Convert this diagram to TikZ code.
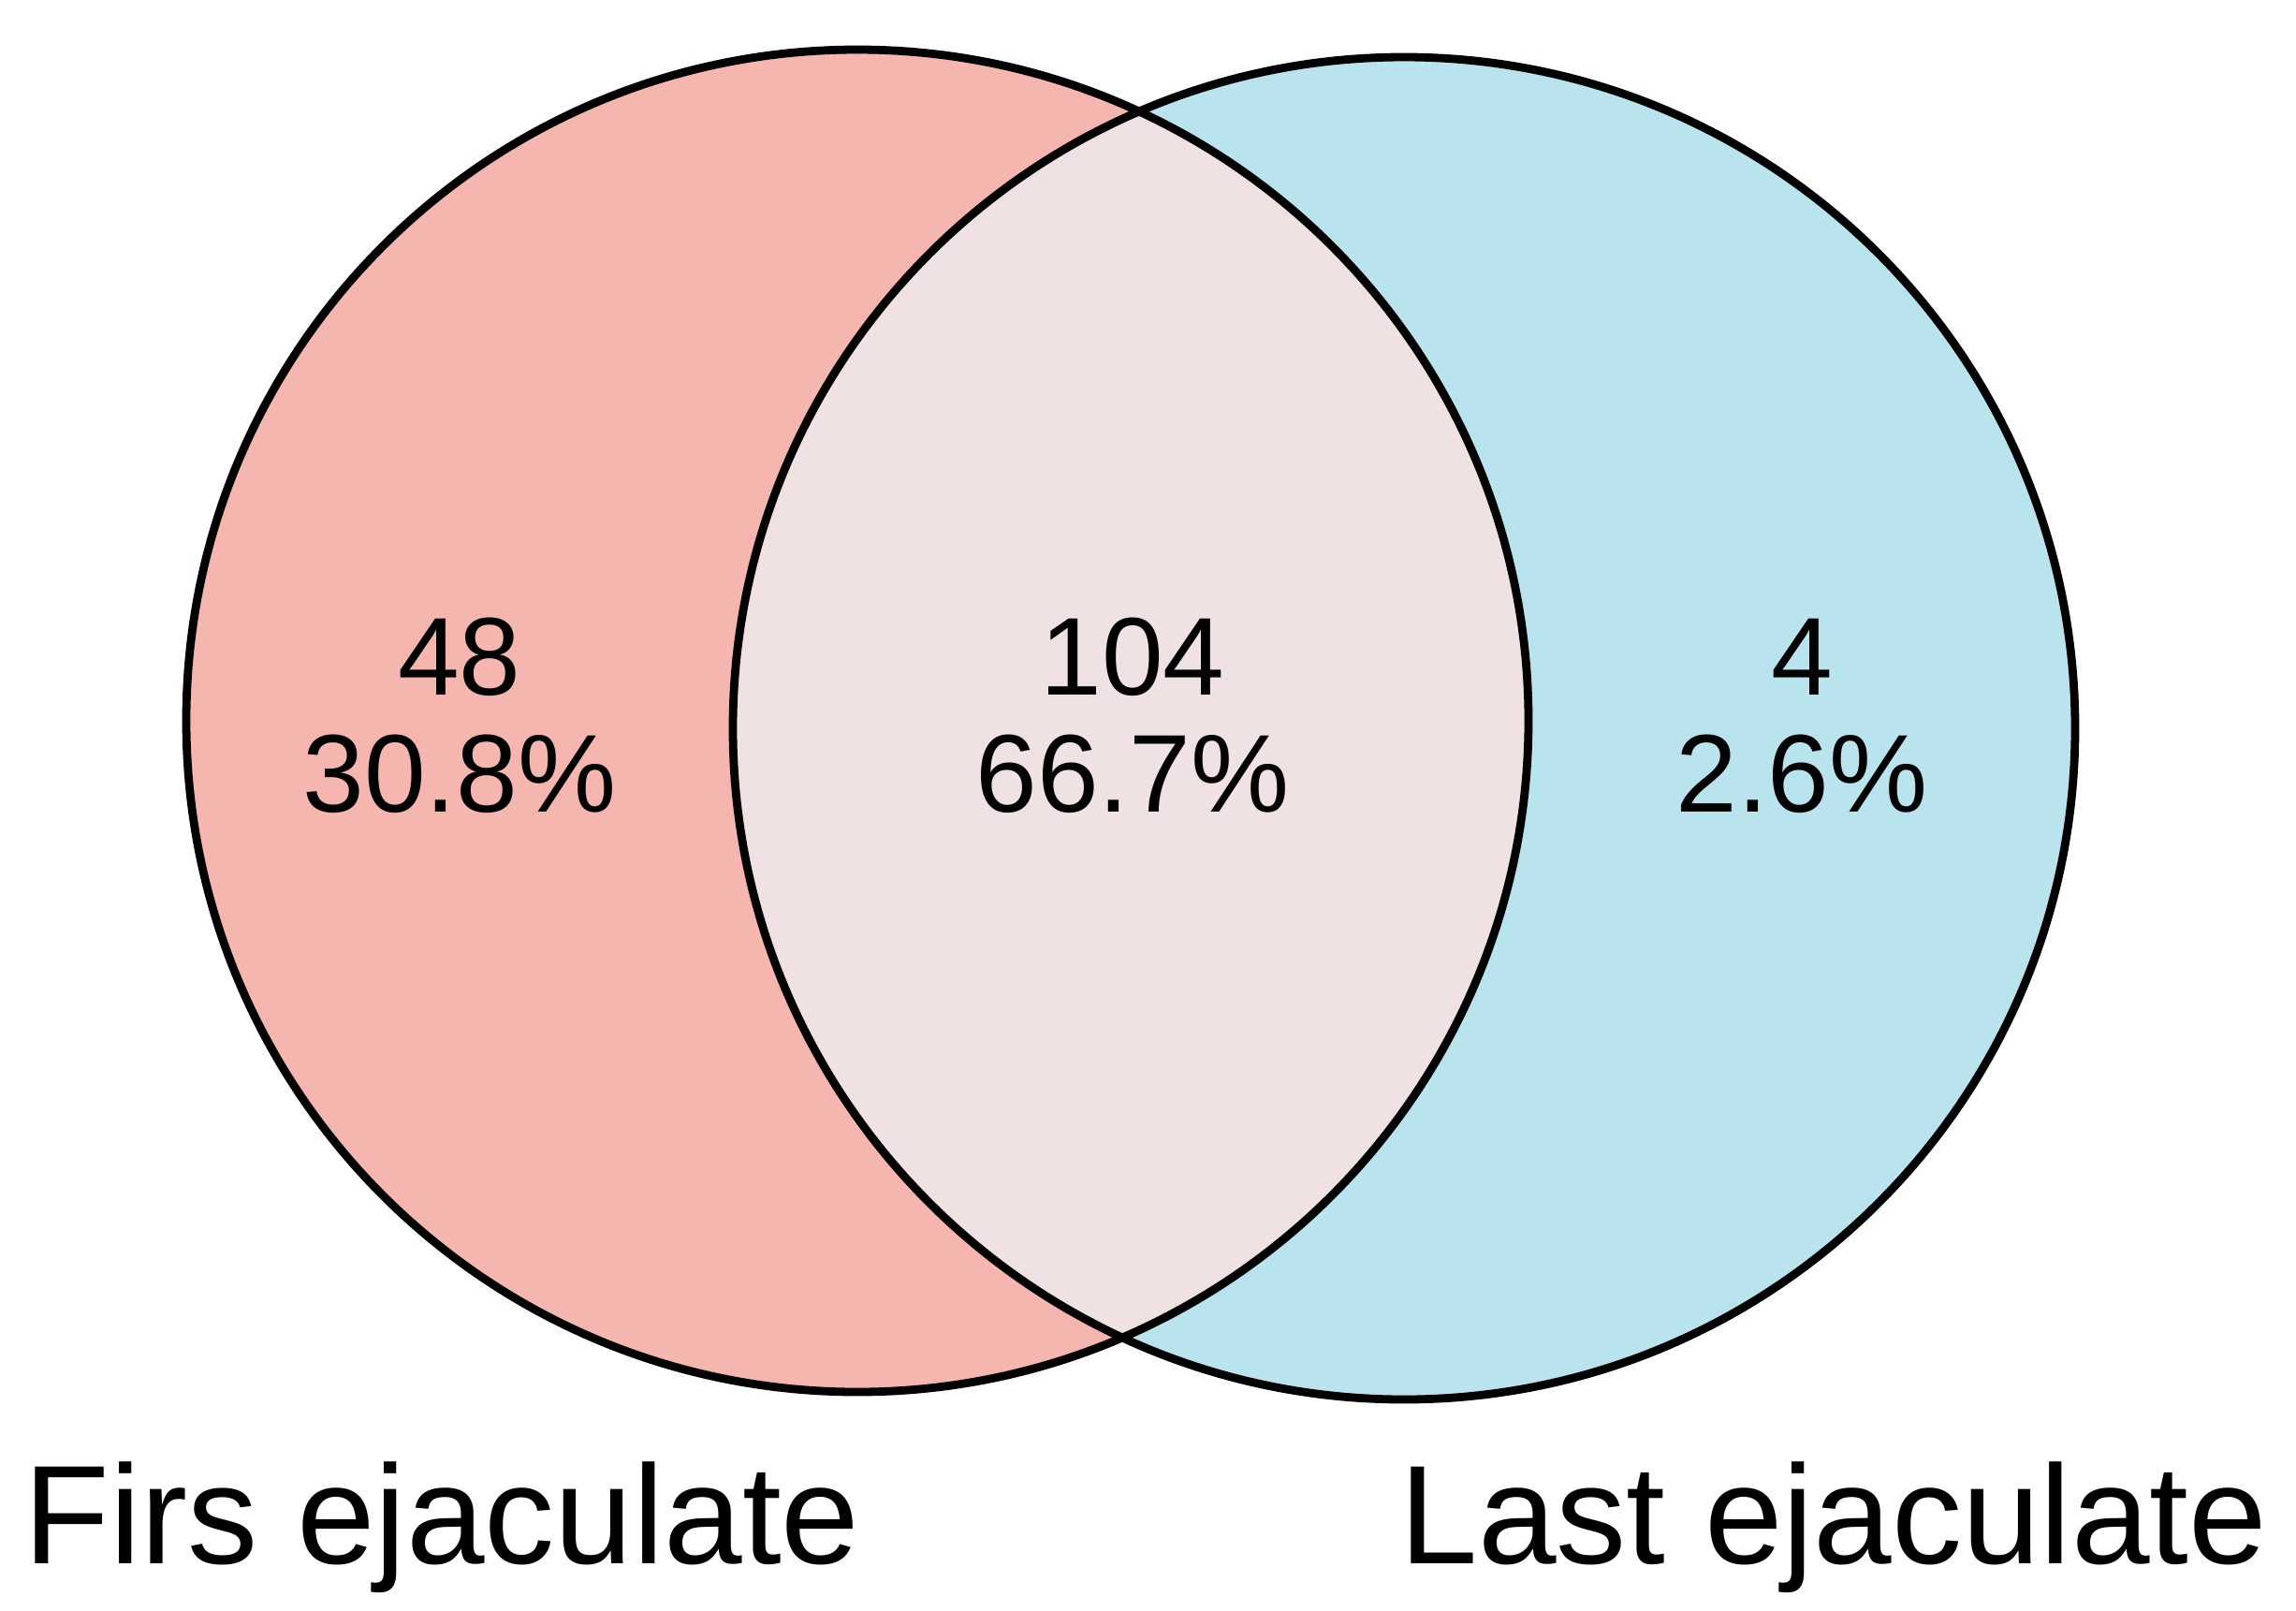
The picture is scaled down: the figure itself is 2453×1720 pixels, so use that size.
\documentclass[tikz,border=0pt]{standalone}
\usepackage{fontspec}
\setmainfont{Liberation Sans}
\definecolor{leftc}{HTML}{F4B6AE}
\definecolor{rightc}{HTML}{B9E4ED}
\definecolor{midc}{HTML}{F0E1E2}
\begin{document}
\begin{tikzpicture}[x=0.01cm,y=-0.01cm,
  ring/.style={draw=black,line width=2.5pt},
  count/.style={align=center,inner sep=0pt,anchor=base,font=\fontsize{33.6}{35.3}\selectfont},
  setlabel/.style={inner sep=0pt,font=\fontsize{42.7}{46}\selectfont}]
\useasboundingbox[fill=white] (0,0) rectangle (2453,1720);
\coordinate (cl) at (916,770);
\coordinate (cr) at (1500,778);
\fill[leftc] (cl) circle[radius=717];
\fill[rightc] (cr) circle[radius=717];
\begin{scope}
  \clip (cl) circle[radius=717];
  \fill[midc] (cr) circle[radius=717];
\end{scope}
\draw[ring] (cl) circle[radius=717];
\draw[ring] (cr) circle[radius=717];
\node[count] (a) at (491,867) {48\\30.8\%};
\node[count] (b) at (1210,867) {104\\66.7\%};
\node[count] (c) at (1925,867) {4\\2.6\%};
\node[setlabel,anchor=base west] (la) at (25,1670) {Firs ejaculate};
\node[setlabel,anchor=base east] (lb) at (2423,1670) {Last ejaculate};
\end{tikzpicture}
\end{document}
